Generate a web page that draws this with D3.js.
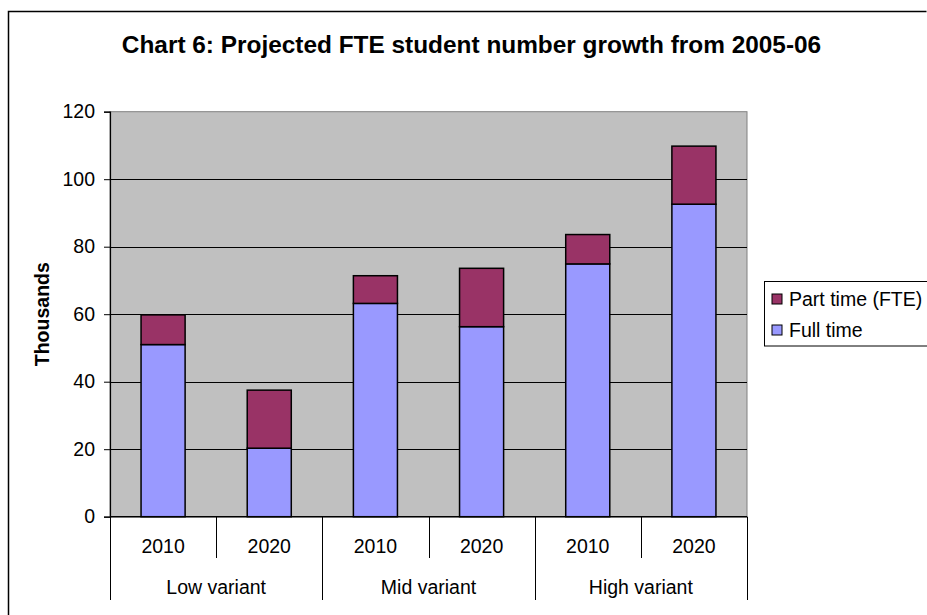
<!DOCTYPE html>
<html>
<head>
<meta charset="utf-8">
<script src="https://cdn.jsdelivr.net/npm/d3@7"></script>
<style>
  html, body { margin: 0; padding: 0; background: #ffffff; }
  svg { display: block; font-family: "Liberation Sans", Arial, sans-serif; }
</style>
</head>
<body>
<svg id="chart" width="927" height="615"></svg>
<script>
// Projected FTE student number growth, thousands
const groups = ["Low variant", "Mid variant", "High variant"];
const years = ["2010", "2020"];
const fullTime = [51.0, 20.3, 63.2, 56.3, 74.9, 92.6];
const partTime = [8.8, 17.2, 8.2, 17.3, 8.7, 17.2];
const seriesNames = ["Part time (FTE)", "Full time"];
const yTicks = [0, 20, 40, 60, 80, 100, 120];

const colors = { full: "#9999ff", part: "#993366" };
const FS = 19.5;

const svg = d3.select("#chart");
const W = 927, H = 615;
const plot = { left: 110, top: 111.7, right: 747, bottom: 516.7 };

// Outer chart frame
svg.append("path")
  .attr("d", `M8.5,${H + 2} L8.5,11.5 L926.5,11.5`)
  .attr("fill", "none").attr("stroke", "#000").attr("stroke-width", 1.5);

// Title
svg.append("text")
  .attr("x", 471.5).attr("y", 53)
  .attr("text-anchor", "middle")
  .attr("font-size", 24.4).attr("font-weight", "bold")
  .text("Chart 6: Projected FTE student number growth from 2005-06");

// Category keys: one per bar
const cats = [];
groups.forEach((g, gi) => years.forEach((y, yi) => cats.push({ key: gi + "-" + yi, group: g, year: y })));

const x = d3.scaleBand().domain(cats.map(c => c.key))
  .range([plot.left, plot.right]).paddingInner(0.585).paddingOuter(0.2925);
const xOuter = d3.scaleBand().domain(cats.map(c => c.key))
  .range([plot.left, plot.right]);
const y = d3.scaleLinear().domain([0, 120]).range([plot.bottom, plot.top]);

// Plot background
svg.append("rect")
  .attr("x", plot.left).attr("y", plot.top)
  .attr("width", plot.right - plot.left).attr("height", plot.bottom - plot.top)
  .attr("fill", "#c0c0c0").attr("stroke", "#808080").attr("stroke-width", 1);

// Gridlines
svg.append("g").selectAll("line").data(yTicks.filter(t => t > 0 && t < 120)).join("line")
  .attr("x1", plot.left).attr("x2", plot.right)
  .attr("y1", d => Math.round(y(d)) + 0.5).attr("y2", d => Math.round(y(d)) + 0.5)
  .attr("stroke", "#000").attr("stroke-width", 1);

// Y axis
const yAxis = svg.append("g")
  .attr("transform", `translate(${plot.left},0)`)
  .call(d3.axisLeft(y).tickValues(yTicks).tickSize(6).tickPadding(9));
yAxis.select(".domain").attr("stroke", "#000").attr("stroke-width", 1.2);
yAxis.selectAll(".tick line").attr("stroke", "#000");
yAxis.selectAll(".tick text")
  .attr("font-family", "Liberation Sans, Arial, sans-serif")
  .attr("font-size", FS).attr("fill", "#000");

// Y axis title
svg.append("text")
  .attr("transform", `translate(48.5,${(plot.top + plot.bottom) / 2}) rotate(-90)`)
  .attr("text-anchor", "middle")
  .attr("font-size", FS).attr("font-weight", "bold")
  .text("Thousands");

// Stacked bars
const rows = cats.map((c, i) => ({ key: c.key, full: fullTime[i], part: partTime[i] }));
const stack = d3.stack().keys(["full", "part"])(rows);
svg.append("g").selectAll("g").data(stack).join("g")
  .attr("fill", d => colors[d.key])
  .selectAll("rect").data(d => d).join("rect")
  .attr("x", d => x(d.data.key))
  .attr("width", x.bandwidth())
  .attr("y", d => y(d[1]))
  .attr("height", d => y(d[0]) - y(d[1]))
  .attr("stroke", "#000").attr("stroke-width", 1.5);

// Category axis line
svg.append("line")
  .attr("x1", plot.left).attr("x2", plot.right)
  .attr("y1", plot.bottom).attr("y2", plot.bottom)
  .attr("stroke", "#000").attr("stroke-width", 1.5);

// Category separators: short between years, long between groups
const bounds = d3.range(cats.length + 1).map(i => plot.left + i * xOuter.step());
svg.append("g").selectAll("line").data(bounds).join("line")
  .attr("x1", d => Math.round(d) + 0.5).attr("x2", d => Math.round(d) + 0.5)
  .attr("y1", plot.bottom)
  .attr("y2", (d, i) => i % 2 === 0 ? 600 : 558)
  .attr("stroke", "#000").attr("stroke-width", 1);

// Year labels
svg.append("g").selectAll("text").data(cats).join("text")
  .attr("x", d => xOuter(d.key) + xOuter.bandwidth() / 2)
  .attr("y", 553)
  .attr("text-anchor", "middle").attr("font-size", FS)
  .text(d => d.year);

// Group labels
svg.append("g").selectAll("text").data(groups).join("text")
  .attr("x", (d, i) => plot.left + (2 * i + 1) * xOuter.step())
  .attr("y", 593.5)
  .attr("text-anchor", "middle").attr("font-size", FS)
  .text(d => d);

// Legend
const legend = svg.append("g");
legend.append("rect")
  .attr("x", 764.5).attr("y", 281.5).attr("width", 170).attr("height", 64.5)
  .attr("fill", "#fff").attr("stroke", "#000").attr("stroke-width", 1);
const legendColors = [colors.part, colors.full];
seriesNames.forEach((name, i) => {
  const cy = 299 + i * 31;
  legend.append("rect")
    .attr("x", 772).attr("y", cy - 5).attr("width", 10).attr("height", 10)
    .attr("fill", legendColors[i]).attr("stroke", "#000").attr("stroke-width", 1);
  legend.append("text")
    .attr("x", 789).attr("y", cy + 7)
    .attr("font-size", FS)
    .text(name);
});
</script>
</body>
</html>
